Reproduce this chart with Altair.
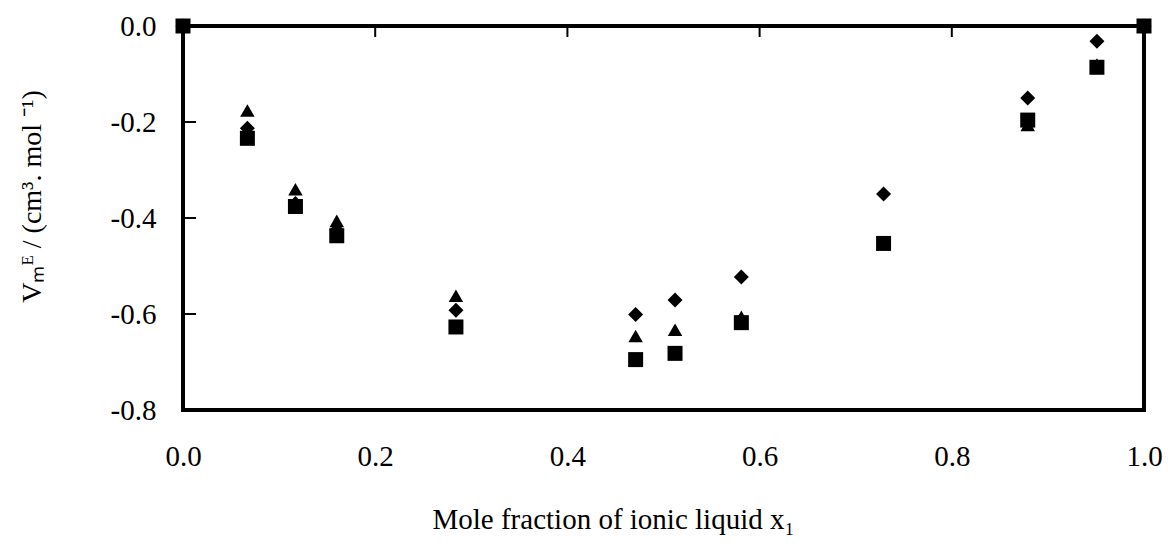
import altair as alt
import pandas as pd

# data
x_vals = [0.0, 0.067, 0.117, 0.160, 0.284, 0.471, 0.512, 0.581, 0.729, 0.879, 0.951, 1.0]
diamond_vals = [0.0, -0.213, -0.370, -0.425, -0.592, -0.601, -0.571, -0.523, -0.350, -0.150, -0.032, 0.0]
triangle_vals = [0.0, -0.176, -0.340, -0.406, -0.562, -0.646, -0.633, -0.606, -0.450, -0.206, -0.080, 0.0]
square_vals = [0.0, -0.234, -0.376, -0.437, -0.627, -0.695, -0.682, -0.618, -0.453, -0.196, -0.086, 0.0]

x_ticks = [0.0, 0.2, 0.4, 0.6, 0.8, 1.0]
y_ticks = [0.0, -0.2, -0.4, -0.6, -0.8]
inner_x_ticks = [0.2, 0.4, 0.6, 0.8]
inner_y_ticks = [-0.2, -0.4, -0.6, -0.8]

FONT = "Liberation Serif"
W, H = 961, 384

xscale = alt.Scale(domain=[0, 1], nice=False, zero=False)
yscale = alt.Scale(domain=[-0.8, 0], nice=False, zero=False)

xaxis = alt.Axis(
    values=x_ticks, format=".1f", ticks=False, domain=False, grid=False,
    labelFont=FONT, labelFontSize=29, labelColor="black", labelPadding=32,
    title="Mole fraction of ionic liquid x₁", titleFont=FONT, titleFontSize=29,
    titleFontWeight="normal", titleColor="black", titleX=249, titleY=118,
    titleAlign="left", titleBaseline="alphabetic", labelFlush=False,
)
yaxis = alt.Axis(
    values=y_ticks, ticks=False, domain=False, grid=False,
    labelExpr="replace(format(datum.value, '.1f'), '\u2212', '-')",
    labelFont=FONT, labelFontSize=29, labelColor="black", labelPadding=27,
    title="Vₘᴱ / (cm³. mol ⁻¹)", titleFont=FONT, titleFontSize=28,
    titleFontWeight="normal", titleColor="black", titleAngle=270,
    titleX=-151, titleY=170, titleAlign="center", titleBaseline="middle",
    labelFlush=False,
)

df_d = pd.DataFrame({"x": x_vals, "v": diamond_vals})
df_t = pd.DataFrame({"x": x_vals, "v": triangle_vals})
df_s = pd.DataFrame({"x": x_vals, "v": square_vals})

def pts(df, shape, size):
    return alt.Chart(df).mark_point(shape=shape, size=size, filled=True, color="black", opacity=1).encode(
        x=alt.X("x:Q", scale=xscale, axis=xaxis),
        y=alt.Y("v:Q", scale=yscale, axis=yaxis),
    )

xt = alt.Chart(pd.DataFrame({"t": inner_x_ticks})).mark_rule(color="black", strokeWidth=2).encode(
    x=alt.X("t:Q", scale=xscale, axis=xaxis), y=alt.value(0), y2=alt.value(11)
)
yt = alt.Chart(pd.DataFrame({"t": inner_y_ticks})).mark_rule(color="black", strokeWidth=2).encode(
    y=alt.Y("t:Q", scale=yscale, axis=yaxis), x=alt.value(0), x2=alt.value(13)
)

chart = alt.layer(
    xt, yt,
    pts(df_d, "diamond", 225),
    pts(df_t, "triangle-up", 210),
    pts(df_s, "square", 225),
).properties(
    width=W, height=H,
    autosize=alt.AutoSizeParams(type="none"),
    padding={"left": 183, "top": 26, "right": 1168 - 183 - W, "bottom": 548 - 26 - H},
    background="white",
).configure_view(
    stroke="black", strokeWidth=4
)

chart.save("out.html", embed_options={"renderer": "svg", "actions": False})
